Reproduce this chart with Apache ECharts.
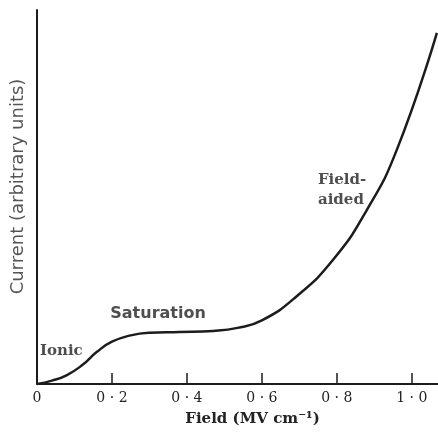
<!DOCTYPE html>
<html>
<head>
<meta charset="utf-8">
<script src="https://cdn.jsdelivr.net/npm/echarts@6/dist/echarts.min.js"></script>
<style>
  html, body { margin: 0; padding: 0; background: #fff; }
  #chart { width: 438px; height: 442px; }
</style>
</head>
<body>
<div id="chart"></div>
<script>
// field (MV cm-1) vs current (arbitrary units)
const fieldValues = [0, 0.04, 0.08, 0.12, 0.16, 0.2, 0.25, 0.3, 0.38, 0.47, 0.535, 0.6, 0.69, 0.79, 0.88, 0.96, 1.067];
const currentValues = [0, 0.9, 2.4, 5.0, 8.6, 11.3, 13.0, 13.7, 13.9, 14.2, 15.0, 17.0, 23.2, 33.2, 46.5, 62.6, 93.9];

const tickValues = [0.2, 0.4, 0.6, 0.8, 1.0];
const labelValues = [0, 0.2, 0.4, 0.6, 0.8, 1.0];
const tickLabels = ['0', '0 · 2', '0 · 4', '0 · 6', '0 · 8', '1 · 0'];

// region annotations
const regionNames = ['Ionic', 'Saturation', 'Field-\naided'];
const regionX = [0.008, 0.323, 0.819];
const regionY = [8.8, 18.7, 51.9];

const ink = '#1c1c1c';
const chart = echarts.init(document.getElementById('chart'));

const option = {
  animation: false,
  grid: { left: 37, right: 0, top: 10, bottom: 58 },
  xAxis: {
    type: 'value',
    min: 0,
    max: 1.07,
    name: 'Field (MV cm⁻¹)',
    nameLocation: 'middle',
    nameGap: 28,
    nameTextStyle: {
      color: '#222', fontFamily: 'DejaVu Serif', fontWeight: 'bold', fontSize: 15,
      padding: [0, 0, 0, 30]
    },
    axisLine: { show: true, lineStyle: { color: ink, width: 2 } },
    axisTick: {
      show: true, inside: true, length: 11,
      customValues: tickValues,
      lineStyle: { color: ink, width: 1.5 }
    },
    axisLabel: {
      customValues: labelValues,
      formatter: v => tickLabels[labelValues.findIndex(l => Math.abs(l - v) < 1e-6)] || '',
      color: '#222', fontFamily: 'DejaVu Serif', fontSize: 14, margin: 7
    },
    splitLine: { show: false }
  },
  yAxis: {
    type: 'value',
    min: 0,
    max: 100,
    name: 'Current (arbitrary units)',
    nameLocation: 'middle',
    nameGap: 10,
    nameTextStyle: {
      color: '#555', fontFamily: 'DejaVu Sans', fontSize: 18,
      padding: [0, 0, 0, 21]
    },
    axisLine: { show: true, lineStyle: { color: ink, width: 2 } },
    axisTick: { show: false },
    axisLabel: { show: false },
    splitLine: { show: false }
  },
  series: [
    {
      type: 'line',
      data: fieldValues.map((x, i) => [x, currentValues[i]]),
      smooth: 0.5,
      symbol: 'none',
      clip: false,
      lineStyle: { color: ink, width: 2.5 }
    },
    {
      type: 'scatter',
      symbolSize: 0,
      data: regionNames.map((n, i) => ({ value: [regionX[i], regionY[i]], name: n })),
      label: {
        show: true,
        formatter: p => p.name,
        color: '#222'
      }
    }
  ]
};

// per-label styling
option.series[1].data[0].label = {
  position: 'right', distance: 0,
  fontFamily: 'DejaVu Serif', fontWeight: 'bold', fontSize: 15
};
option.series[1].data[1].label = {
  position: 'inside',
  fontFamily: 'DejaVu Sans', fontWeight: 'bold', fontSize: 16
};
option.series[1].data[2].label = {
  position: 'inside', align: 'left', offset: [-26, 0],
  fontFamily: 'DejaVu Serif', fontWeight: 'bold', fontSize: 15, lineHeight: 20
};

chart.setOption(option);
</script>
</body>
</html>
